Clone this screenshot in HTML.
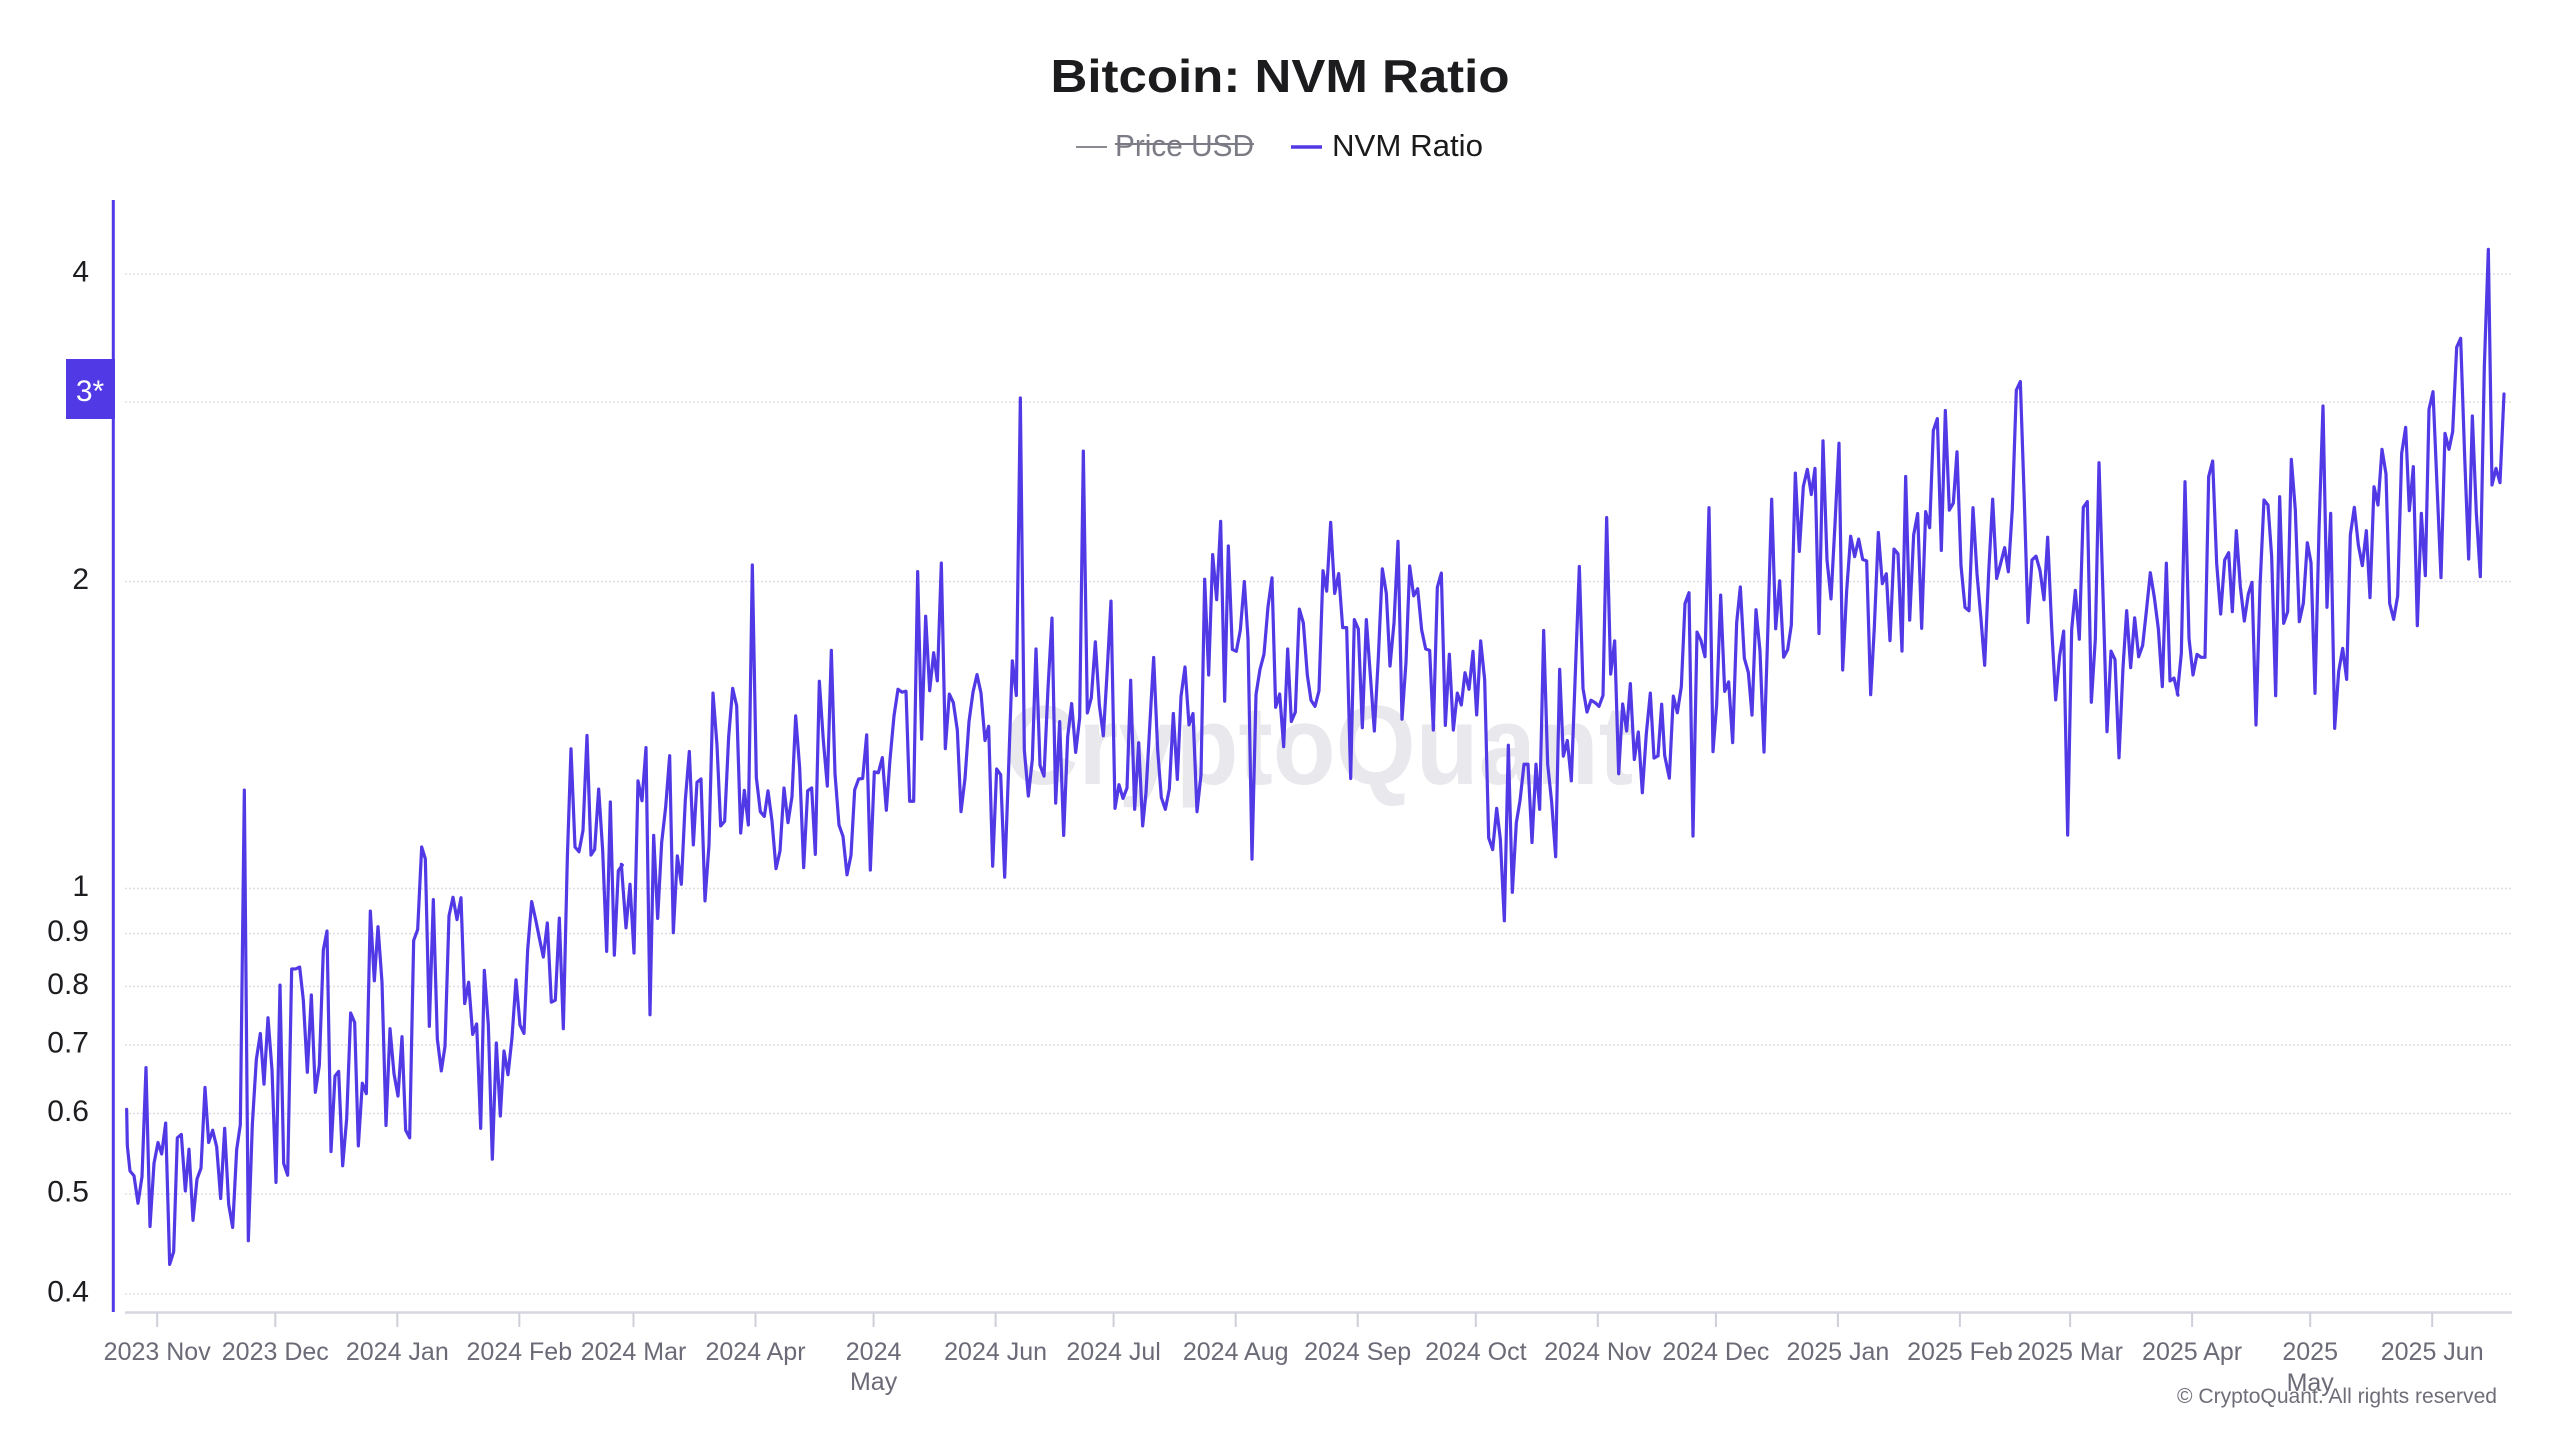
<!DOCTYPE html>
<html>
<head>
<meta charset="utf-8">
<style>
  html, body { margin: 0; padding: 0; background: #ffffff; }
  svg { display: block; }
  text { font-family: "Liberation Sans", "DejaVu Sans", sans-serif; }
</style>
</head>
<body>
<svg width="2560" height="1440" viewBox="0 0 2560 1440" xmlns="http://www.w3.org/2000/svg">
  <rect x="0" y="0" width="2560" height="1440" fill="#ffffff"/>

  <!-- Title -->
  <text x="1280" y="92" text-anchor="middle" font-size="46" font-weight="bold" fill="#1c1c1f" textLength="459" lengthAdjust="spacingAndGlyphs">Bitcoin: NVM Ratio</text>

  <!-- Legend -->
  <line x1="1076" y1="147" x2="1107" y2="147" stroke="#8a8a93" stroke-width="2"/>
  <text x="1115" y="156" font-size="31" fill="#7b7b86" textLength="139" lengthAdjust="spacingAndGlyphs">Price USD</text>
  <line x1="1115" y1="144" x2="1254" y2="144" stroke="#7b7b86" stroke-width="2"/>
  <line x1="1291" y1="147" x2="1322" y2="147" stroke="#5139e6" stroke-width="3.5"/>
  <text x="1332" y="156" font-size="31" fill="#1a1a1a" textLength="151" lengthAdjust="spacingAndGlyphs">NVM Ratio</text>

  <!-- Watermark -->
  <text x="1004" y="784" font-size="112" font-weight="bold" fill="#e8e8ed" textLength="629" lengthAdjust="spacingAndGlyphs">CryptoQuant</text>

  <!-- Gridlines -->
  <g stroke="#dedee4" stroke-width="1.5" stroke-dasharray="2,2">
    <line x1="125" y1="274" x2="2512" y2="274"/>
    <line x1="125" y1="402" x2="2512" y2="402"/>
    <line x1="125" y1="581.5" x2="2512" y2="581.5"/>
    <line x1="125" y1="888.5" x2="2512" y2="888.5"/>
    <line x1="125" y1="933.5" x2="2512" y2="933.5"/>
    <line x1="125" y1="986.5" x2="2512" y2="986.5"/>
    <line x1="125" y1="1045" x2="2512" y2="1045"/>
    <line x1="125" y1="1113.5" x2="2512" y2="1113.5"/>
    <line x1="125" y1="1194" x2="2512" y2="1194"/>
    <line x1="125" y1="1294" x2="2512" y2="1294"/>
  </g>

  <!-- Y labels -->
  <g font-size="30" fill="#1e1e22" text-anchor="end">
    <text x="89" y="281.5">4</text>
    <text x="89" y="589">2</text>
    <text x="89" y="896">1</text>
    <text x="89" y="941">0.9</text>
    <text x="89" y="994">0.8</text>
    <text x="89" y="1052.5">0.7</text>
    <text x="89" y="1121">0.6</text>
    <text x="89" y="1201.5">0.5</text>
    <text x="89" y="1301.5">0.4</text>
  </g>

  <!-- 3* highlighted label -->
  <rect x="66" y="359" width="49" height="60" fill="#5139e6"/>
  <text x="90" y="401" font-size="30" fill="#ffffff" text-anchor="middle">3*</text>

  <!-- Y axis line -->
  <line x1="113.3" y1="200" x2="113.3" y2="1312" stroke="#5139e6" stroke-width="3"/>

  <!-- X axis -->
  <line x1="125" y1="1312.5" x2="2512" y2="1312.5" stroke="#d6d6e0" stroke-width="2.5"/>
  <g stroke="#cfcfda" stroke-width="2">
    <line x1="157.2" y1="1313" x2="157.2" y2="1327"/>
    <line x1="275.3" y1="1313" x2="275.3" y2="1327"/>
    <line x1="397.3" y1="1313" x2="397.3" y2="1327"/>
    <line x1="519.3" y1="1313" x2="519.3" y2="1327"/>
    <line x1="633.5" y1="1313" x2="633.5" y2="1327"/>
    <line x1="755.5" y1="1313" x2="755.5" y2="1327"/>
    <line x1="873.6" y1="1313" x2="873.6" y2="1327"/>
    <line x1="995.6" y1="1313" x2="995.6" y2="1327"/>
    <line x1="1113.6" y1="1313" x2="1113.6" y2="1327"/>
    <line x1="1235.7" y1="1313" x2="1235.7" y2="1327"/>
    <line x1="1357.7" y1="1313" x2="1357.7" y2="1327"/>
    <line x1="1475.8" y1="1313" x2="1475.8" y2="1327"/>
    <line x1="1597.8" y1="1313" x2="1597.8" y2="1327"/>
    <line x1="1715.9" y1="1313" x2="1715.9" y2="1327"/>
    <line x1="1837.9" y1="1313" x2="1837.9" y2="1327"/>
    <line x1="1959.9" y1="1313" x2="1959.9" y2="1327"/>
    <line x1="2070.1" y1="1313" x2="2070.1" y2="1327"/>
    <line x1="2192.1" y1="1313" x2="2192.1" y2="1327"/>
    <line x1="2310.2" y1="1313" x2="2310.2" y2="1327"/>
    <line x1="2432.2" y1="1313" x2="2432.2" y2="1327"/>
  </g>
  <g font-size="25" fill="#6b6b77" text-anchor="middle">
    <text x="157.2" y="1360">2023 Nov</text>
    <text x="275.3" y="1360">2023 Dec</text>
    <text x="397.3" y="1360">2024 Jan</text>
    <text x="519.3" y="1360">2024 Feb</text>
    <text x="633.5" y="1360">2024 Mar</text>
    <text x="755.5" y="1360">2024 Apr</text>
    <text x="873.6" y="1360">2024</text>
    <text x="873.6" y="1390">May</text>
    <text x="995.6" y="1360">2024 Jun</text>
    <text x="1113.6" y="1360">2024 Jul</text>
    <text x="1235.7" y="1360">2024 Aug</text>
    <text x="1357.7" y="1360">2024 Sep</text>
    <text x="1475.8" y="1360">2024 Oct</text>
    <text x="1597.8" y="1360">2024 Nov</text>
    <text x="1715.9" y="1360">2024 Dec</text>
    <text x="1837.9" y="1360">2025 Jan</text>
    <text x="1959.9" y="1360">2025 Feb</text>
    <text x="2070.1" y="1360">2025 Mar</text>
    <text x="2192.1" y="1360">2025 Apr</text>
    <text x="2310.2" y="1360">2025</text>
    <text x="2310.2" y="1391">May</text>
    <text x="2432.2" y="1360">2025 Jun</text>
  </g>

  <!-- Copyright -->
  <text x="2177" y="1403" font-size="21" fill="#6e6e78" textLength="320" lengthAdjust="spacingAndGlyphs">© CryptoQuant. All rights reserved</text>

  <!-- Series: NVM Ratio -->
  <g fill="none" stroke="#5139e6" stroke-width="3.2" stroke-linejoin="round" stroke-linecap="round">
    <polyline vector-effect="non-scaling-stroke" transform="translate(110,560) scale(0.333333,0.474383)" points="50,1158 52,1235 60,1288 72,1298 84,1356 96,1300 108,1070 120,1405 132,1272 144,1228 155,1252 167,1187 179,1485 191,1458 202,1218 214,1211 226,1330 237,1242 249,1392 261,1305 273,1282 285,1112 296,1228 308,1202 320,1237 332,1346 344,1198 356,1358 368,1407 380,1243 391,1190 403,485 415,1435 427,1190 439,1053 451,998 462,1105 474,965 486,1075 498,1312 510,896 521,1272 533,1297 545,862 557,862 569,858 580,928 592,1080 604,917 616,1122 628,1065 640,822 651,782 663,1247 675,1088 686,1078 698,1277 710,1178 722,955 734,975 745,1235 757,1103 769,1125 781,740 793,887 804,773 816,890 828,1192 840,988 852,1083 864,1130 876,1005 887,1202 899,1218 911,802 923,779 935,605 946,630 958,983 970,716 982,1010 994,1077 1005,1025 1017,750 1029,711 1041,758 1053,712 1064,935 1076,890 1088,1000 1100,978 1112,1198 1123,865 1135,980 1147,1263 1159,1018 1171,1172 1182,1035 1194,1085 1206,1007 1218,885 1230,980 1242,998 1253,822 1265,720 1277,758 1289,800 1300,837 1312,765 1324,932 1336,928 1348,755 1360,988 1372,628 1383,398 1395,605 1407,615 1419,570 1431,370 1443,622 1454,610 1466,483 1478,612 1490,825 1501,510 1513,833 1525,655 1537,643"/>
    <polyline vector-effect="non-scaling-stroke" transform="translate(620,380) scale(0.333333,0.474383)" points="4,1021 18,1155 30,1063 42,1208 54,845 66,887 78,775 90,1338 101,960 113,1135 125,975 137,900 149,792 160,1165 172,1003 184,1063 196,885 208,783 220,980 231,848 243,841 255,1098 267,980 279,660 291,770 302,940 314,930 326,752 338,650 350,687 362,955 373,865 385,938 397,390 409,838 421,910 433,920 444,866 456,930 468,1030 480,993 492,860 504,933 516,878 527,708 539,818 551,1028 563,866 575,860 586,1000 598,635 610,760 622,856 634,570 645,830 657,938 669,962 681,1043 693,1002 704,864 716,841 728,840 740,748 751,1033 763,826 775,828 787,796 799,907 810,800 822,708 834,652 846,658 858,656 869,888 881,888 893,404 905,757 917,498 929,655 941,575 952,634 964,386 976,777 988,662 1000,680 1012,738 1023,910 1035,840 1047,720 1059,658 1071,621 1083,660 1095,760 1106,730 1118,1025 1130,820 1142,832 1154,1048 1166,815 1177,592 1189,665 1201,38 1213,780 1225,877 1237,800 1248,567 1260,812 1272,835 1284,650 1296,502 1307,892 1319,720 1331,960 1343,752 1355,682 1367,785 1379,712 1390,150 1402,702 1414,670 1426,552 1438,685 1450,750 1461,620 1473,466 1485,903 1497,853 1509,882 1521,860 1532,633 1544,905 1556,765"/>
    <polyline vector-effect="non-scaling-stroke" transform="translate(1140,380) scale(0.333333,0.474383)" points="-4,765 8,940 18,870 30,720 41,585 53,780 64,880 76,905 88,862 100,703 112,842 123,667 135,605 147,727 159,703 171,910 183,832 194,420 206,622 218,368 230,463 242,298 254,677 265,350 277,568 289,572 301,527 313,425 324,545 336,1010 348,663 360,610 372,578 384,478 396,417 407,690 419,662 431,773 443,567 454,720 466,700 478,483 490,512 502,622 513,675 525,688 537,655 549,402 560,445 572,300 584,450 596,408 608,522 620,522 632,840 643,505 655,525 667,733 679,505 691,622 703,740 715,585 727,398 739,450 750,603 762,512 774,340 786,715 798,595 809,392 821,455 833,440 845,527 857,567 869,570 880,738 892,437 904,407 916,728 928,578 940,738 952,660 964,685 975,617 987,652 999,572 1010,706 1022,550 1034,632 1046,965 1058,990 1070,903 1081,968 1093,1140 1105,770 1117,1080 1129,933 1140,887 1152,810 1164,810 1176,975 1188,810 1199,905 1211,528 1223,810 1235,890 1247,1005 1259,610 1270,793 1282,760 1294,845 1306,618 1318,393 1329,650 1341,700 1353,675 1365,680 1377,688 1389,665 1400,290 1412,620 1424,550 1436,830 1448,683 1460,740 1471,640 1483,800 1495,742 1507,870 1519,745 1531,660 1542,797 1554,792"/>
    <polyline vector-effect="non-scaling-stroke" transform="translate(1660,300) scale(0.333333,0.474383)" points="-6,961 5,852 14,960 28,1008 40,835 52,870 64,815 75,640 87,617 99,1130 111,700 123,718 135,752 147,438 159,952 170,852 182,622 194,825 206,805 218,933 230,680 241,605 253,755 265,785 276,875 288,653 300,740 312,953 324,685 335,420 347,693 359,592 371,753 383,737 394,685 406,365 418,530 430,393 442,357 454,410 465,355 477,703 489,297 501,548 513,630 525,472 537,302 548,780 560,613 572,498 584,541 596,504 608,547 620,550 632,832 643,690 655,490 667,598 679,577 690,718 702,525 714,535 726,740 737,372 749,675 761,495 773,450 785,692 797,446 809,480 820,275 832,250 844,528 856,233 868,443 880,428 891,320 903,560 915,648 927,655 939,438 951,577 963,673 974,770 986,575 998,420 1010,587 1022,555 1034,522 1045,573 1057,440 1069,190 1081,172 1093,425 1104,680 1116,548 1128,540 1140,570 1152,632 1163,500 1175,690 1187,843 1199,750 1211,698 1223,1128 1235,695 1246,612 1258,715 1270,437 1282,425 1294,848 1306,715 1317,343 1329,620 1341,910 1353,740 1365,758 1377,965 1389,775 1400,655 1412,775 1424,670 1436,752 1448,728 1460,650 1471,575 1483,627 1495,693 1507,815 1519,555 1530,803 1542,797 1554,833"/>
    <polyline vector-effect="non-scaling-stroke" transform="translate(2170,220) scale(0.333333,0.333333)" points="22,1422 34,1300 45,785 57,1255 69,1365 81,1303 93,1312 105,1312 116,770 128,723 140,1030 152,1182 164,1020 176,998 187,1175 199,932 211,1100 223,1203 235,1122 246,1087 258,1515 270,1100 282,840 294,855 305,1010 317,1427 329,830 341,1210 353,1175 364,718 376,870 388,1205 400,1150 412,968 423,1028 435,1420 447,930 459,558 471,1162 482,880 494,1525 506,1355 518,1285 530,1378 541,945 553,862 565,975 577,1037 589,932 600,1133 612,800 624,855 636,688 648,762 659,1150 671,1198 683,1128 695,700 707,622 718,872 730,740 742,1217 754,880 766,1067 777,568 789,515 801,795 813,1073 825,640 837,688 848,635 860,382 872,355 884,710 896,1017 907,588 919,880 931,1070 943,440 955,88 966,795 978,745 990,788 1002,522"/>
  </g>
</svg>
</body>
</html>
